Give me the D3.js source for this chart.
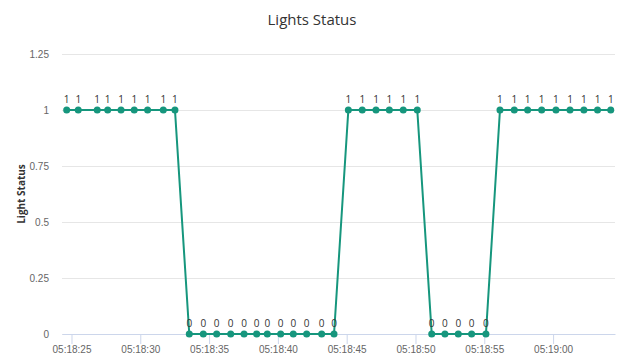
<!DOCTYPE html>
<html>
<head>
<meta charset="utf-8">
<script src="https://cdn.jsdelivr.net/npm/d3@7"></script>
<style>
  body { margin: 0; background: #fff; }
  svg { display: block; font-family: "Open Sans", "Noto Sans", sans-serif; }
</style>
</head>
<body>
<svg id="chart" width="623" height="354"></svg>
<script>
// seconds after 05:18:25 for each reading, and the status read
const seconds = [
  -0.35, 0.49, 1.87, 2.63, 3.60, 4.56, 5.53, 6.67, 7.52,
  8.56, 9.58, 10.55, 11.57, 12.54, 13.46, 14.23, 15.20, 16.12, 17.09, 18.18, 19.08,
  20.12, 21.13, 22.13, 23.10, 24.11, 25.13,
  26.18, 27.14, 28.11, 29.08, 30.12,
  31.14, 32.18, 33.15, 34.17, 35.21, 36.23, 37.24, 38.23, 39.19
];
const status = [
  1, 1, 1, 1, 1, 1, 1, 1, 1,
  0, 0, 0, 0, 0, 0, 0, 0, 0, 0, 0, 0,
  1, 1, 1, 1, 1, 1,
  0, 0, 0, 0, 0,
  1, 1, 1, 1, 1, 1, 1, 1, 1
];
const yTicks = [0, 0.25, 0.5, 0.75, 1, 1.25];
const tickSeconds = [0, 5, 10, 15, 20, 25, 30, 35];

const base = new Date(2020, 0, 1, 5, 18, 25);
const at = s => new Date(base.getTime() + s * 1000);
const data = seconds.map((s, i) => ({ t: at(s), v: status[i] }));

const svg = d3.select("#chart");
const plotLeft = 62, plotRight = 615, plotTop = 54, plotBottom = 334;
const teal = "#16967d";

const x = d3.scaleTime()
  .domain([at(-0.69), at(39.5)])
  .range([plotLeft, plotRight]);
const y = d3.scaleLinear().domain([0, 1.25]).range([plotBottom, plotTop]);

// title
svg.append("text")
  .attr("x", 312).attr("y", 25)
  .attr("text-anchor", "middle")
  .attr("fill", "#333").attr("font-size", 15)
  .text("Lights Status");

// y grid + labels
const yAxis = svg.append("g")
  .attr("transform", `translate(${plotLeft},0)`)
  .call(d3.axisLeft(y).tickValues(yTicks).tickSize(-(plotRight - plotLeft)).tickFormat(d3.format("")));
yAxis.select(".domain").remove();
yAxis.selectAll(".tick line").attr("stroke", "#e6e6e6");
yAxis.selectAll(".tick text")
  .attr("x", -13).attr("fill", "#666").attr("font-size", 10)
  .attr("font-family", "inherit");

svg.append("text")
  .attr("transform", `translate(25,${(plotTop + plotBottom) / 2}) rotate(-90)`)
  .attr("text-anchor", "middle")
  .attr("fill", "#333").attr("font-size", 10).attr("font-weight", "bold")
  .text("Light Status");

// x axis
const xAxis = svg.append("g")
  .attr("transform", `translate(0,${plotBottom})`)
  .call(d3.axisBottom(x)
    .tickValues(tickSeconds.map(at))
    .tickSize(10).tickSizeOuter(0)
    .tickFormat(d3.timeFormat("%H:%M:%S")));
xAxis.select(".domain").attr("stroke", "#ccd6eb");
xAxis.selectAll(".tick line").attr("stroke", "#ccd6eb");
xAxis.selectAll(".tick text")
  .attr("y", 12).attr("fill", "#666").attr("font-size", 10)
  .attr("font-family", "inherit");

// series
const line = d3.line().x(d => x(d.t)).y(d => y(d.v));
svg.append("path")
  .datum(data)
  .attr("d", line)
  .attr("fill", "none")
  .attr("stroke", teal)
  .attr("stroke-width", 2);

svg.append("g").selectAll("circle")
  .data(data)
  .join("circle")
  .attr("cx", d => x(d.t))
  .attr("cy", d => y(d.v))
  .attr("r", 3.5)
  .attr("fill", teal);

svg.append("g").selectAll("text")
  .data(data)
  .join("text")
  .attr("x", d => x(d.t))
  .attr("y", d => y(d.v) - 7)
  .attr("text-anchor", "middle")
  .attr("fill", "#333")
  .attr("font-size", 10)
  .text(d => d.v);
</script>
</body>
</html>
